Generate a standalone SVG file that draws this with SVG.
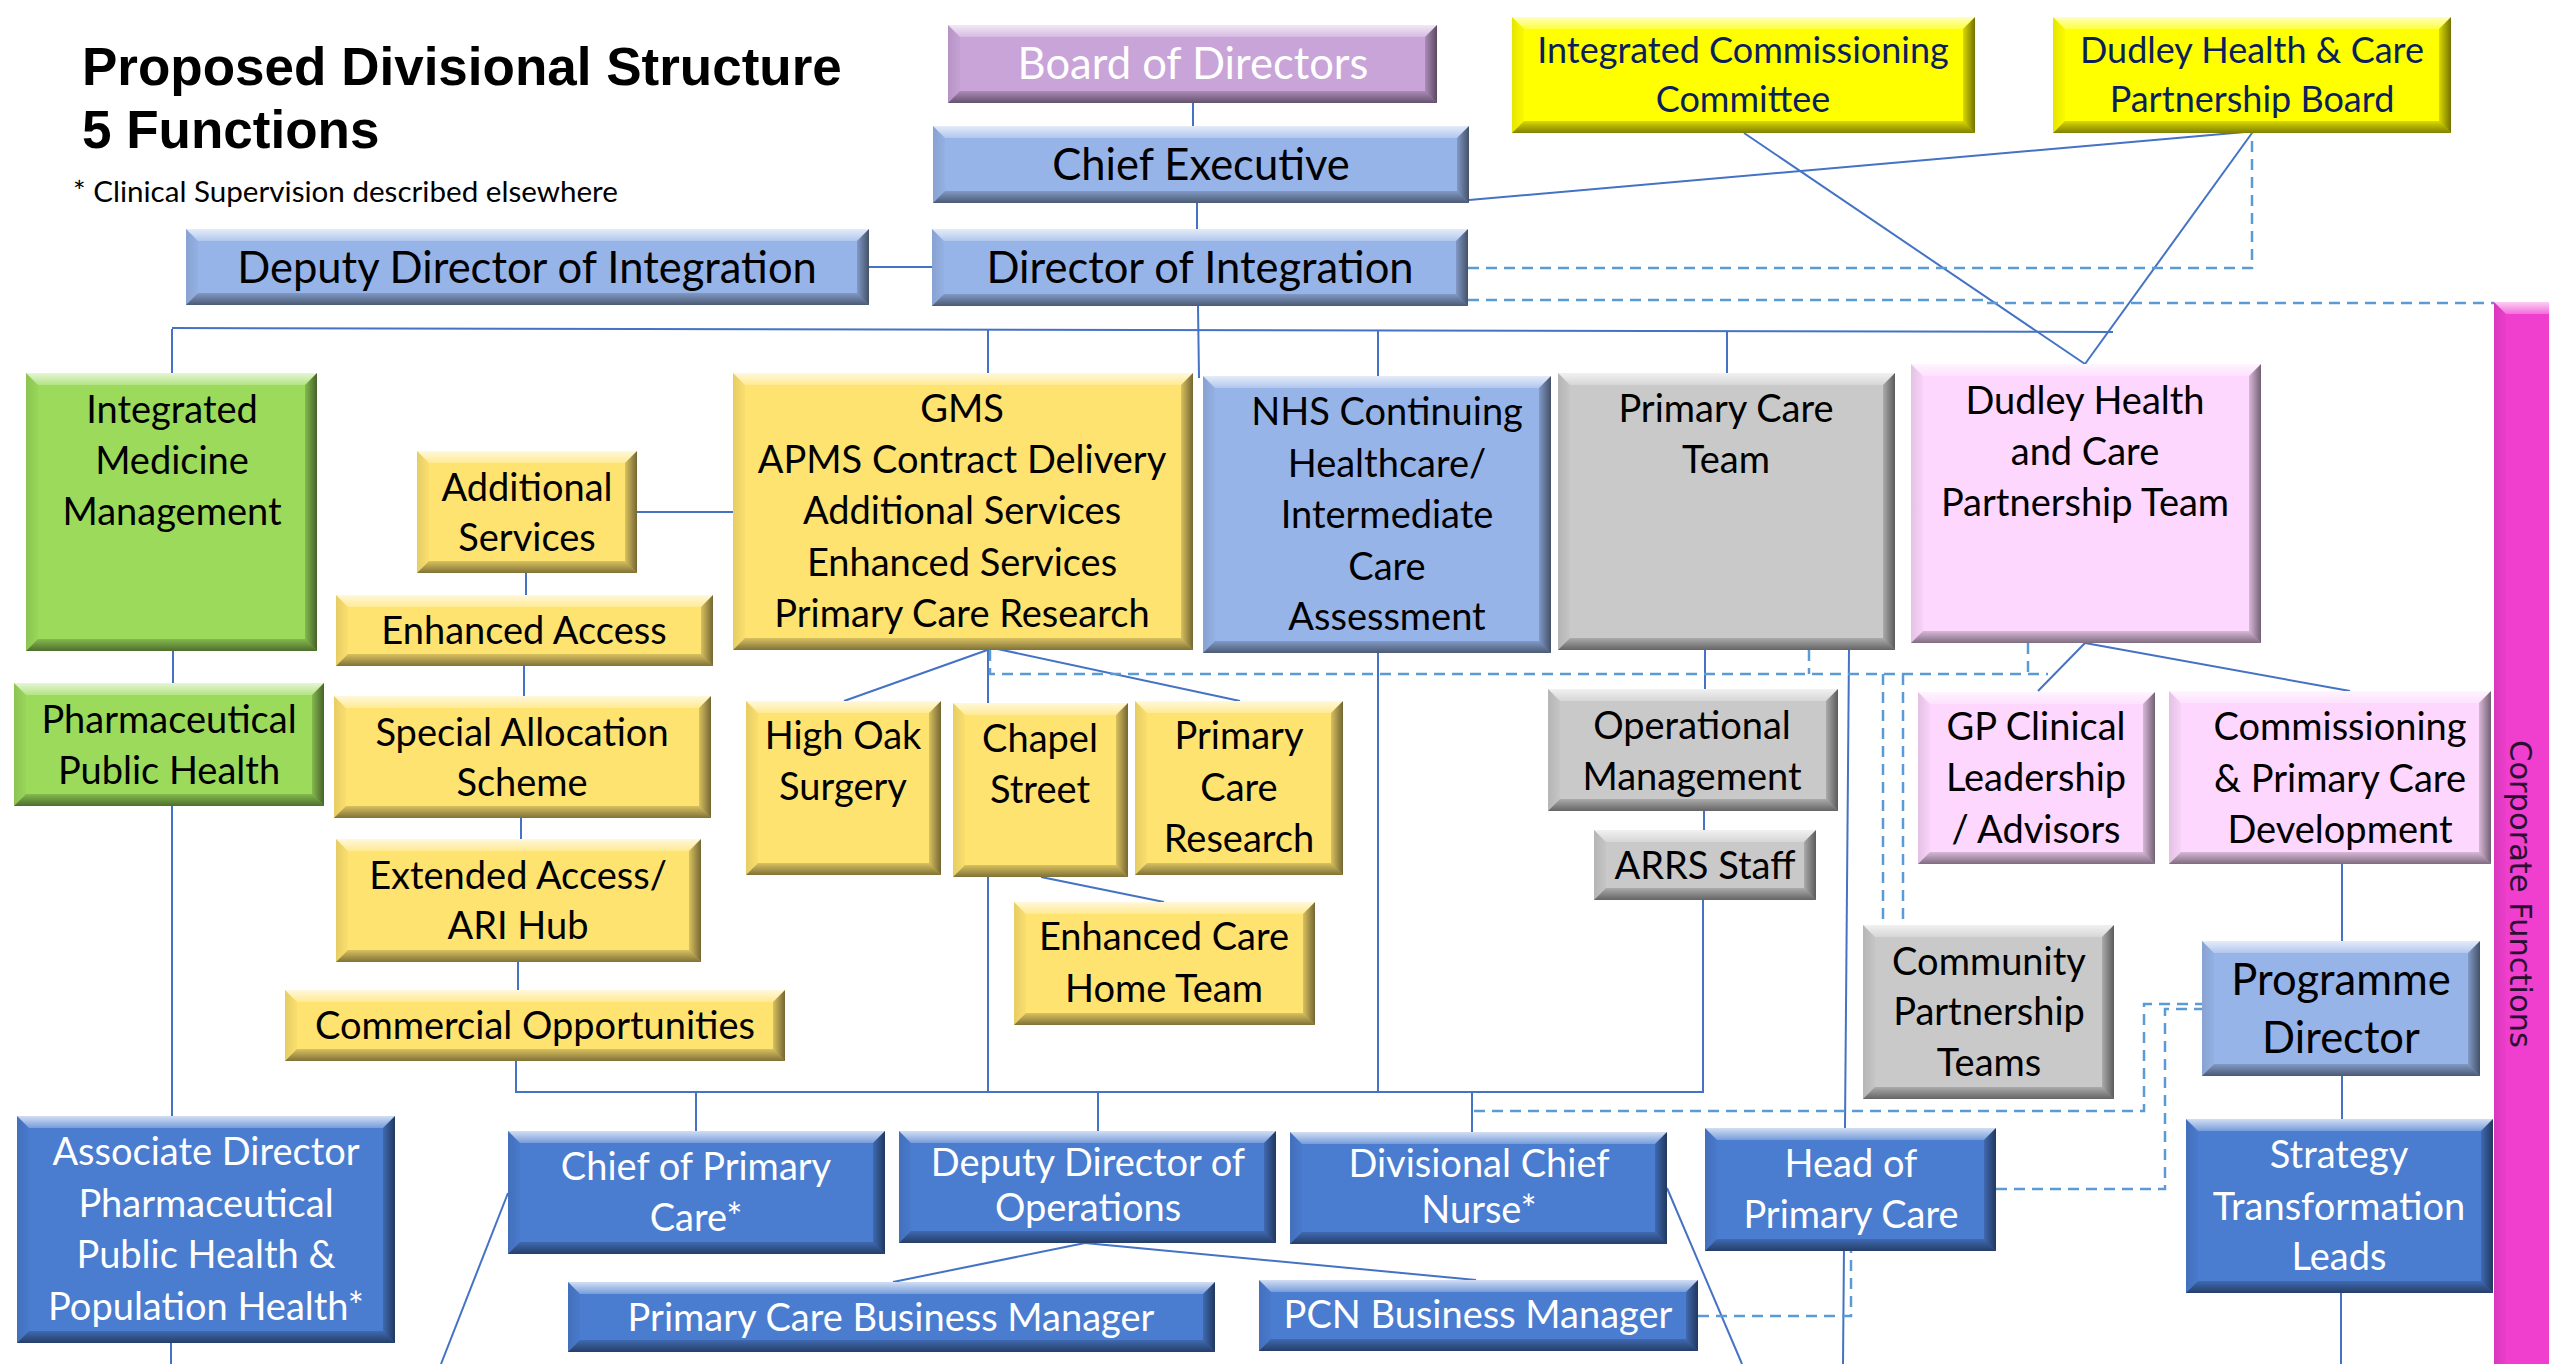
<svg xmlns="http://www.w3.org/2000/svg" width="2549" height="1364" viewBox="0 0 2549 1364">
<style>
  .lb{fill:#97B4E8}
  .db{fill:#4A7CD0}
  .gd{fill:#FFE370}
  .yl{fill:#FFFF00}
  .gr{fill:#9BDA5B}
  .gy{fill:#C9C9C9}
  .pk{fill:#FDD7FD}
  .li{fill:#C9A4D9}
  .mg{fill:#F03ECF}
  .bt{fill:url(#gTop)}
  .bb{fill:url(#gBot)}
  .br{fill:url(#gRight)}
  .bl{fill:url(#gLeft)}
  .t{font-family:Lato,"Liberation Sans",sans-serif;font-size:38px;text-anchor:middle;fill:#000}
  .big{font-size:43.5px}
  .cm{font-size:36px}
  .tw{fill:#fff}
  .tn{fill:#0A1F5C}
  .ln{stroke:#4472C4;stroke-width:2;fill:none}
  .dl{stroke:#5B9BD5;stroke-width:2.5;stroke-dasharray:11 7;fill:none}
  .title{font-family:"Liberation Sans",Arial,sans-serif;font-weight:bold;font-size:53px;fill:#000}
  .note{font-family:Lato,"Liberation Sans",sans-serif;font-size:29.6px;fill:#000}
  .corp{font-family:"DejaVu Sans",sans-serif;font-size:30.5px;fill:#2A1030;text-anchor:middle}
</style>
<defs>
  <linearGradient id="gTop" x1="0" y1="0" x2="0" y2="1">
    <stop offset="0" stop-color="#fff" stop-opacity="0.75"/>
    <stop offset="1" stop-color="#fff" stop-opacity="0.25"/>
  </linearGradient>
  <linearGradient id="gBot" x1="0" y1="0" x2="0" y2="1">
    <stop offset="0" stop-color="#000" stop-opacity="0.15"/>
    <stop offset="1" stop-color="#000" stop-opacity="0.5"/>
  </linearGradient>
  <linearGradient id="gRight" x1="0" y1="0" x2="1" y2="0">
    <stop offset="0" stop-color="#000" stop-opacity="0.15"/>
    <stop offset="1" stop-color="#000" stop-opacity="0.55"/>
  </linearGradient>
  <linearGradient id="gLeft" x1="0" y1="0" x2="1" y2="0">
    <stop offset="0" stop-color="#000" stop-opacity="0.1"/>
    <stop offset="1" stop-color="#000" stop-opacity="0.02"/>
  </linearGradient>
</defs>

<rect width="2549" height="1364" fill="#fff"/>

<!-- heading -->
<g id="heading">
  <text class="title" x="82" y="85">Proposed Divisional Structure</text>
  <text class="title" x="82" y="148">5 Functions</text>
  <text class="note" x="73" y="202">* Clinical Supervision described elsewhere</text>
</g>

<!-- connectors -->
<g id="connectors">
  <path class="ln" d="M1193 103V126"/>
  <path class="ln" d="M1197 203V229"/>
  <path class="ln" d="M869 267H932"/>
  <path class="ln" d="M1469 200L2268 130"/>
  <path class="ln" d="M1744 133L2085 364"/>
  <path class="ln" d="M2252 133L2085 364"/>
  <path class="ln" d="M172 328L2113 332"/>
  <path class="ln" d="M1198 306L1199 378"/>
  <path class="ln" d="M172 329V373"/>
  <path class="ln" d="M988 330V373"/>
  <path class="ln" d="M1378 331V376"/>
  <path class="ln" d="M1727 331V373"/>
  <path class="ln" d="M173 651V683"/>
  <path class="ln" d="M172 806V1116"/>
  <path class="ln" d="M171 1343V1364"/>
  <path class="ln" d="M637 512H733"/>
  <path class="ln" d="M526 573V595"/>
  <path class="ln" d="M524 666V696"/>
  <path class="ln" d="M521 818V839"/>
  <path class="ln" d="M518 962V990"/>
  <path class="ln" d="M516 1061V1092H1703V900"/>
  <path class="ln" d="M988 648V1092"/>
  <path class="ln" d="M993 648L844 701"/>
  <path class="ln" d="M993 648L1240 701"/>
  <path class="ln" d="M1041 877L1164 902"/>
  <path class="ln" d="M1378 653V1092"/>
  <path class="ln" d="M696 1092V1131"/>
  <path class="ln" d="M1098 1092V1131"/>
  <path class="ln" d="M1472 1092V1132"/>
  <path class="ln" d="M1085 1243L893 1282"/>
  <path class="ln" d="M1085 1243L1476 1280"/>
  <path class="ln" d="M508 1193L441 1364"/>
  <path class="ln" d="M1667 1188L1742 1364"/>
  <path class="ln" d="M1849 650L1843 1364"/>
  <path class="ln" d="M1705 650V689"/>
  <path class="ln" d="M1704 811V830"/>
  <path class="ln" d="M2085 643L2038 691"/>
  <path class="ln" d="M2085 643L2350 691"/>
  <path class="ln" d="M2342 864V941"/>
  <path class="ln" d="M2342 1076V1119"/>
  <path class="ln" d="M2341 1293V1364"/>

  <path class="dl" d="M1468 268H2252V133"/>
  <path class="dl" d="M1468 300H1986V303H2494"/>
  <path class="dl" d="M990 650V674H2048"/>
  <path class="dl" d="M1809 650V674"/>
  <path class="dl" d="M2028 643V674"/>
  <path class="dl" d="M1883 674V925"/>
  <path class="dl" d="M1903 674V925"/>
  <path class="dl" d="M1474 1111H2144V1004H2202"/>
  <path class="dl" d="M1996 1189H2165V1009H2202"/>
  <path class="dl" d="M1698 1316H1851V1251"/>
</g>

<!-- top of the structure -->
<g id="board" transform="translate(948,25)">
  <rect class="li" width="489" height="78"/>
  <polygon class="bt" points="0,0 489,0 477,12 12,12"/><polygon class="bl" points="0,0 12,12 12,66 0,78"/>
  <polygon class="br" points="489,0 489,78 477,66 477,12"/><polygon class="bb" points="0,78 489,78 477,66 12,66"/>
  <text class="t big tw" x="245" y="54">Board of Directors</text>
</g>
<g id="chief-executive" transform="translate(933,126)">
  <rect class="lb" width="536" height="77"/>
  <polygon class="bt" points="0,0 536,0 524,12 12,12"/><polygon class="bl" points="0,0 12,12 12,65 0,77"/>
  <polygon class="br" points="536,0 536,77 524,65 524,12"/><polygon class="bb" points="0,77 536,77 524,65 12,65"/>
  <text class="t big" x="268" y="54">Chief Executive</text>
</g>
<g id="director-integration" transform="translate(932,229)">
  <rect class="lb" width="536" height="77"/>
  <polygon class="bt" points="0,0 536,0 524,12 12,12"/><polygon class="bl" points="0,0 12,12 12,65 0,77"/>
  <polygon class="br" points="536,0 536,77 524,65 524,12"/><polygon class="bb" points="0,77 536,77 524,65 12,65"/>
  <text class="t big" x="268" y="54">Director of Integration</text>
</g>
<g id="deputy-director-integration" transform="translate(186,229)">
  <rect class="lb" width="683" height="76"/>
  <polygon class="bt" points="0,0 683,0 671,12 12,12"/><polygon class="bl" points="0,0 12,12 12,64 0,76"/>
  <polygon class="br" points="683,0 683,76 671,64 671,12"/><polygon class="bb" points="0,76 683,76 671,64 12,64"/>
  <text class="t big" x="341" y="54">Deputy Director of Integration</text>
</g>
<g id="integrated-commissioning" transform="translate(1512,17)">
  <rect class="yl" width="463" height="116"/>
  <polygon class="bt" points="0,0 463,0 451,12 12,12"/><polygon class="bl" points="0,0 12,12 12,104 0,116"/>
  <polygon class="br" points="463,0 463,116 451,104 451,12"/><polygon class="bb" points="0,116 463,116 451,104 12,104"/>
  <text class="t cm tn" x="231" y="46">Integrated Commissioning</text>
  <text class="t cm tn" x="231" y="95">Committee</text>
</g>
<g id="partnership-board" transform="translate(2053,17)">
  <rect class="yl" width="398" height="116"/>
  <polygon class="bt" points="0,0 398,0 386,12 12,12"/><polygon class="bl" points="0,0 12,12 12,104 0,116"/>
  <polygon class="br" points="398,0 398,116 386,104 386,12"/><polygon class="bb" points="0,116 398,116 386,104 12,104"/>
  <text class="t cm tn" x="199" y="46">Dudley Health &amp; Care</text>
  <text class="t cm tn" x="199" y="95">Partnership Board</text>
</g>

<!-- medicines column -->
<g id="integrated-medicine" transform="translate(26,373)">
  <rect class="gr" width="291" height="278"/>
  <polygon class="bt" points="0,0 291,0 279,12 12,12"/><polygon class="bl" points="0,0 12,12 12,266 0,278"/>
  <polygon class="br" points="291,0 291,278 279,266 279,12"/><polygon class="bb" points="0,278 291,278 279,266 12,266"/>
  <text class="t" x="146" y="50">Integrated</text>
  <text class="t" x="146" y="101">Medicine</text>
  <text class="t" x="146" y="152">Management</text>
</g>
<g id="pharmaceutical-public-health" transform="translate(14,683)">
  <rect class="gr" width="310" height="123"/>
  <polygon class="bt" points="0,0 310,0 298,12 12,12"/><polygon class="bl" points="0,0 12,12 12,111 0,123"/>
  <polygon class="br" points="310,0 310,123 298,111 298,12"/><polygon class="bb" points="0,123 310,123 298,111 12,111"/>
  <text class="t" x="155" y="50">Pharmaceutical</text>
  <text class="t" x="155" y="101">Public Health</text>
</g>
<g id="associate-director" transform="translate(17,1116)">
  <rect class="db" width="378" height="227"/>
  <polygon class="bt" points="0,0 378,0 366,12 12,12"/><polygon class="bl" points="0,0 12,12 12,215 0,227"/>
  <polygon class="br" points="378,0 378,227 366,215 366,12"/><polygon class="bb" points="0,227 378,227 366,215 12,215"/>
  <text class="t tw" x="189" y="49">Associate Director</text>
  <text class="t tw" x="189" y="101">Pharmaceutical</text>
  <text class="t tw" x="189" y="152">Public Health &amp;</text>
  <text class="t tw" x="189" y="204">Population Health*</text>
</g>

<!-- primary care services column -->
<g id="additional-services" transform="translate(417,451)">
  <rect class="gd" width="220" height="122"/>
  <polygon class="bt" points="0,0 220,0 208,12 12,12"/><polygon class="bl" points="0,0 12,12 12,110 0,122"/>
  <polygon class="br" points="220,0 220,122 208,110 208,12"/><polygon class="bb" points="0,122 220,122 208,110 12,110"/>
  <text class="t" x="110" y="50">Additional</text>
  <text class="t" x="110" y="100">Services</text>
</g>
<g id="enhanced-access" transform="translate(336,595)">
  <rect class="gd" width="377" height="71"/>
  <polygon class="bt" points="0,0 377,0 365,12 12,12"/><polygon class="bl" points="0,0 12,12 12,59 0,71"/>
  <polygon class="br" points="377,0 377,71 365,59 365,12"/><polygon class="bb" points="0,71 377,71 365,59 12,59"/>
  <text class="t" x="188" y="49">Enhanced Access</text>
</g>
<g id="special-allocation" transform="translate(334,696)">
  <rect class="gd" width="377" height="122"/>
  <polygon class="bt" points="0,0 377,0 365,12 12,12"/><polygon class="bl" points="0,0 12,12 12,110 0,122"/>
  <polygon class="br" points="377,0 377,122 365,110 365,12"/><polygon class="bb" points="0,122 377,122 365,110 12,110"/>
  <text class="t" x="188" y="50">Special Allocation</text>
  <text class="t" x="188" y="100">Scheme</text>
</g>
<g id="extended-access" transform="translate(336,839)">
  <rect class="gd" width="365" height="123"/>
  <polygon class="bt" points="0,0 365,0 353,12 12,12"/><polygon class="bl" points="0,0 12,12 12,111 0,123"/>
  <polygon class="br" points="365,0 365,123 353,111 353,12"/><polygon class="bb" points="0,123 365,123 353,111 12,111"/>
  <text class="t" x="182" y="50">Extended Access/</text>
  <text class="t" x="182" y="100">ARI Hub</text>
</g>
<g id="commercial-opportunities" transform="translate(285,990)">
  <rect class="gd" width="500" height="71"/>
  <polygon class="bt" points="0,0 500,0 488,12 12,12"/><polygon class="bl" points="0,0 12,12 12,59 0,71"/>
  <polygon class="br" points="500,0 500,71 488,59 488,12"/><polygon class="bb" points="0,71 500,71 488,59 12,59"/>
  <text class="t" x="250" y="49">Commercial Opportunities</text>
</g>
<g id="gms" transform="translate(733,373)">
  <rect class="gd" width="460" height="277"/>
  <polygon class="bt" points="0,0 460,0 448,12 12,12"/><polygon class="bl" points="0,0 12,12 12,265 0,277"/>
  <polygon class="br" points="460,0 460,277 448,265 448,12"/><polygon class="bb" points="0,277 460,277 448,265 12,265"/>
  <text class="t" x="229" y="49">GMS</text>
  <text class="t" x="229" y="100">APMS Contract Delivery</text>
  <text class="t" x="229" y="151">Additional Services</text>
  <text class="t" x="229" y="203">Enhanced Services</text>
  <text class="t" x="229" y="254">Primary Care Research</text>
</g>
<g id="high-oak" transform="translate(746,701)">
  <rect class="gd" width="195" height="174"/>
  <polygon class="bt" points="0,0 195,0 183,12 12,12"/><polygon class="bl" points="0,0 12,12 12,162 0,174"/>
  <polygon class="br" points="195,0 195,174 183,162 183,12"/><polygon class="bb" points="0,174 195,174 183,162 12,162"/>
  <text class="t" x="97" y="48">High Oak</text>
  <text class="t" x="97" y="99">Surgery</text>
</g>
<g id="chapel-street" transform="translate(953,703)">
  <rect class="gd" width="175" height="174"/>
  <polygon class="bt" points="0,0 175,0 163,12 12,12"/><polygon class="bl" points="0,0 12,12 12,162 0,174"/>
  <polygon class="br" points="175,0 175,174 163,162 163,12"/><polygon class="bb" points="0,174 175,174 163,162 12,162"/>
  <text class="t" x="87" y="49">Chapel</text>
  <text class="t" x="87" y="100">Street</text>
</g>
<g id="primary-care-research" transform="translate(1135,701)">
  <rect class="gd" width="208" height="174"/>
  <polygon class="bt" points="0,0 208,0 196,12 12,12"/><polygon class="bl" points="0,0 12,12 12,162 0,174"/>
  <polygon class="br" points="208,0 208,174 196,162 196,12"/><polygon class="bb" points="0,174 208,174 196,162 12,162"/>
  <text class="t" x="104" y="48">Primary</text>
  <text class="t" x="104" y="100">Care</text>
  <text class="t" x="104" y="151">Research</text>
</g>
<g id="enhanced-care-home" transform="translate(1014,902)">
  <rect class="gd" width="301" height="123"/>
  <polygon class="bt" points="0,0 301,0 289,12 12,12"/><polygon class="bl" points="0,0 12,12 12,111 0,123"/>
  <polygon class="br" points="301,0 301,123 289,111 289,12"/><polygon class="bb" points="0,123 301,123 289,111 12,111"/>
  <text class="t" x="150" y="48">Enhanced Care</text>
  <text class="t" x="150" y="100">Home Team</text>
</g>

<!-- continuing care, primary care team, partnership team -->
<g id="continuing-healthcare" transform="translate(1203,376)">
  <rect class="lb" width="348" height="277"/>
  <polygon class="bt" points="0,0 348,0 336,12 12,12"/><polygon class="bl" points="0,0 12,12 12,265 0,277"/>
  <polygon class="br" points="348,0 348,277 336,265 336,12"/><polygon class="bb" points="0,277 348,277 336,265 12,265"/>
  <text class="t" x="184" y="49">NHS Continuing</text>
  <text class="t" x="184" y="101">Healthcare/</text>
  <text class="t" x="184" y="152">Intermediate</text>
  <text class="t" x="184" y="204">Care</text>
  <text class="t" x="184" y="254">Assessment</text>
</g>
<g id="primary-care-team" transform="translate(1558,373)">
  <rect class="gy" width="337" height="277"/>
  <polygon class="bt" points="0,0 337,0 325,12 12,12"/><polygon class="bl" points="0,0 12,12 12,265 0,277"/>
  <polygon class="br" points="337,0 337,277 325,265 325,12"/><polygon class="bb" points="0,277 337,277 325,265 12,265"/>
  <text class="t" x="168" y="49">Primary Care</text>
  <text class="t" x="168" y="100">Team</text>
</g>
<g id="partnership-team" transform="translate(1911,364)">
  <rect class="pk" width="350" height="279"/>
  <polygon class="bt" points="0,0 350,0 338,12 12,12"/><polygon class="bl" points="0,0 12,12 12,267 0,279"/>
  <polygon class="br" points="350,0 350,279 338,267 338,12"/><polygon class="bb" points="0,279 350,279 338,267 12,267"/>
  <text class="t" x="174" y="50">Dudley Health</text>
  <text class="t" x="174" y="101">and Care</text>
  <text class="t" x="174" y="152">Partnership Team</text>
</g>
<g id="operational-management" transform="translate(1548,689)">
  <rect class="gy" width="290" height="122"/>
  <polygon class="bt" points="0,0 290,0 278,12 12,12"/><polygon class="bl" points="0,0 12,12 12,110 0,122"/>
  <polygon class="br" points="290,0 290,122 278,110 278,12"/><polygon class="bb" points="0,122 290,122 278,110 12,110"/>
  <text class="t" x="144" y="50">Operational</text>
  <text class="t" x="144" y="101">Management</text>
</g>
<g id="arrs-staff" transform="translate(1594,830)">
  <rect class="gy" width="222" height="70"/>
  <polygon class="bt" points="0,0 222,0 210,12 12,12"/><polygon class="bl" points="0,0 12,12 12,58 0,70"/>
  <polygon class="br" points="222,0 222,70 210,58 210,12"/><polygon class="bb" points="0,70 222,70 210,58 12,58"/>
  <text class="t" x="111" y="49">ARRS Staff</text>
</g>
<g id="gp-clinical-leadership" transform="translate(1918,692)">
  <rect class="pk" width="237" height="172"/>
  <polygon class="bt" points="0,0 237,0 225,12 12,12"/><polygon class="bl" points="0,0 12,12 12,160 0,172"/>
  <polygon class="br" points="237,0 237,172 225,160 225,12"/><polygon class="bb" points="0,172 237,172 225,160 12,160"/>
  <text class="t" x="118" y="48">GP Clinical</text>
  <text class="t" x="118" y="99">Leadership</text>
  <text class="t" x="118" y="151">/ Advisors</text>
</g>
<g id="commissioning-development" transform="translate(2169,691)">
  <rect class="pk" width="322" height="173"/>
  <polygon class="bt" points="0,0 322,0 310,12 12,12"/><polygon class="bl" points="0,0 12,12 12,161 0,173"/>
  <polygon class="br" points="322,0 322,173 310,161 310,12"/><polygon class="bb" points="0,173 322,173 310,161 12,161"/>
  <text class="t" x="171" y="49">Commissioning</text>
  <text class="t" x="171" y="101">&amp; Primary Care</text>
  <text class="t" x="171" y="152">Development</text>
</g>
<g id="community-partnership" transform="translate(1863,925)">
  <rect class="gy" width="251" height="174"/>
  <polygon class="bt" points="0,0 251,0 239,12 12,12"/><polygon class="bl" points="0,0 12,12 12,162 0,174"/>
  <polygon class="br" points="251,0 251,174 239,162 239,12"/><polygon class="bb" points="0,174 251,174 239,162 12,162"/>
  <text class="t" x="126" y="50">Community</text>
  <text class="t" x="126" y="100">Partnership</text>
  <text class="t" x="126" y="151">Teams</text>
</g>
<g id="programme-director" transform="translate(2202,941)">
  <rect class="lb" width="278" height="135"/>
  <polygon class="bt" points="0,0 278,0 266,12 12,12"/><polygon class="bl" points="0,0 12,12 12,123 0,135"/>
  <polygon class="br" points="278,0 278,135 266,123 266,12"/><polygon class="bb" points="0,135 278,135 266,123 12,123"/>
  <text class="t big" x="139" y="54">Programme</text>
  <text class="t big" x="139" y="112">Director</text>
</g>

<!-- leadership row -->
<g id="chief-primary-care" transform="translate(508,1131)">
  <rect class="db" width="377" height="123"/>
  <polygon class="bt" points="0,0 377,0 365,12 12,12"/><polygon class="bl" points="0,0 12,12 12,111 0,123"/>
  <polygon class="br" points="377,0 377,123 365,111 365,12"/><polygon class="bb" points="0,123 377,123 365,111 12,111"/>
  <text class="t tw" x="188" y="49">Chief of Primary</text>
  <text class="t tw" x="188" y="100">Care*</text>
</g>
<g id="deputy-director-operations" transform="translate(899,1131)">
  <rect class="db" width="377" height="112"/>
  <polygon class="bt" points="0,0 377,0 365,12 12,12"/><polygon class="bl" points="0,0 12,12 12,100 0,112"/>
  <polygon class="br" points="377,0 377,112 365,100 365,12"/><polygon class="bb" points="0,112 377,112 365,100 12,100"/>
  <text class="t tw" x="189" y="45">Deputy Director of</text>
  <text class="t tw" x="189" y="90">Operations</text>
</g>
<g id="divisional-chief-nurse" transform="translate(1290,1132)">
  <rect class="db" width="377" height="112"/>
  <polygon class="bt" points="0,0 377,0 365,12 12,12"/><polygon class="bl" points="0,0 12,12 12,100 0,112"/>
  <polygon class="br" points="377,0 377,112 365,100 365,12"/><polygon class="bb" points="0,112 377,112 365,100 12,100"/>
  <text class="t tw" x="189" y="45">Divisional Chief</text>
  <text class="t tw" x="189" y="91">Nurse*</text>
</g>
<g id="head-primary-care" transform="translate(1705,1128)">
  <rect class="db" width="291" height="123"/>
  <polygon class="bt" points="0,0 291,0 279,12 12,12"/><polygon class="bl" points="0,0 12,12 12,111 0,123"/>
  <polygon class="br" points="291,0 291,123 279,111 279,12"/><polygon class="bb" points="0,123 291,123 279,111 12,111"/>
  <text class="t tw" x="146" y="49">Head of</text>
  <text class="t tw" x="146" y="100">Primary Care</text>
</g>
<g id="strategy-leads" transform="translate(2186,1119)">
  <rect class="db" width="307" height="174"/>
  <polygon class="bt" points="0,0 307,0 295,12 12,12"/><polygon class="bl" points="0,0 12,12 12,162 0,174"/>
  <polygon class="br" points="307,0 307,174 295,162 295,12"/><polygon class="bb" points="0,174 307,174 295,162 12,162"/>
  <text class="t tw" x="153" y="49">Strategy</text>
  <text class="t tw" x="153" y="101">Transformation</text>
  <text class="t tw" x="153" y="151">Leads</text>
</g>
<g id="primary-care-business-manager" transform="translate(568,1282)">
  <rect class="db" width="647" height="70"/>
  <polygon class="bt" points="0,0 647,0 635,12 12,12"/><polygon class="bl" points="0,0 12,12 12,58 0,70"/>
  <polygon class="br" points="647,0 647,70 635,58 635,12"/><polygon class="bb" points="0,70 647,70 635,58 12,58"/>
  <text class="t tw" x="323" y="49">Primary Care Business Manager</text>
</g>
<g id="pcn-business-manager" transform="translate(1259,1280)">
  <rect class="db" width="439" height="71"/>
  <polygon class="bt" points="0,0 439,0 427,12 12,12"/><polygon class="bl" points="0,0 12,12 12,59 0,71"/>
  <polygon class="br" points="439,0 439,71 427,59 427,12"/><polygon class="bb" points="0,71 439,71 427,59 12,59"/>
  <text class="t tw" x="219" y="48">PCN Business Manager</text>
</g>

<!-- side bar -->
<g id="corporate-functions" transform="translate(2494,302)">
  <rect class="mg" width="70" height="1100"/>
  <polygon class="bt" points="0,0 70,0 58,12 12,12"/><polygon class="bl" points="0,0 12,12 12,1088 0,1100"/>
  <text class="corp" transform="translate(16,592) rotate(90)">Corporate Functions</text>
</g>
</svg>
